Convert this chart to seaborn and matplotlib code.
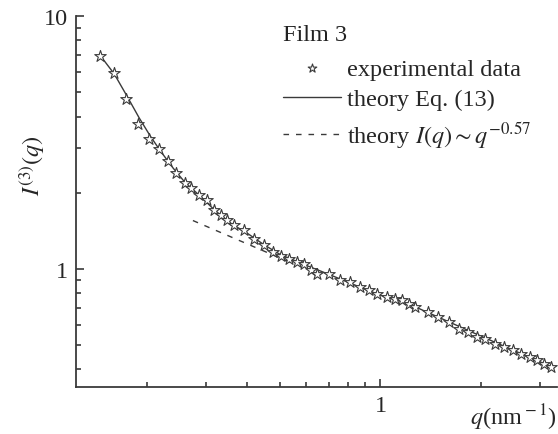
import numpy as np
import pandas as pd
import matplotlib
matplotlib.use('Agg')
import matplotlib.pyplot as plt
import seaborn as sns

q_exp = [0.1455, 0.160, 0.174, 0.188, 0.203, 0.2174, 0.231, 0.2454, 0.261, 0.272,
         0.287, 0.304, 0.3184, 0.3334, 0.3488, 0.365, 0.391, 0.419, 0.449, 0.477,
         0.504, 0.532, 0.5635, 0.590, 0.618, 0.646, 0.700, 0.759, 0.812, 0.870,
         0.921, 0.975, 1.044, 1.106, 1.157, 1.216, 1.268, 1.383, 1.488, 1.602,
         1.715, 1.828, 1.948, 2.058, 2.194, 2.339, 2.488, 2.634, 2.790, 2.938,
         3.091, 3.236]
I_exp = [6.93, 5.95, 4.70, 3.74, 3.265, 2.967, 2.655, 2.385, 2.188, 2.09,
         1.949, 1.862, 1.70, 1.624, 1.552, 1.483, 1.417, 1.314, 1.236, 1.164,
         1.126, 1.095, 1.063, 1.047, 0.985, 0.955, 0.955, 0.899, 0.886, 0.847,
         0.821, 0.796, 0.773, 0.761, 0.749, 0.727, 0.706, 0.674, 0.644, 0.616,
         0.579, 0.562, 0.537, 0.529, 0.505, 0.490, 0.475, 0.461, 0.448, 0.434,
         0.421, 0.409]

# theory Eq. (13)
q_th = [0.145, 0.16, 0.175, 0.19, 0.205, 0.22, 0.24, 0.26, 0.29, 0.32, 0.36,
        0.40, 0.45, 0.5, 0.6, 0.7, 0.85, 1.0, 1.2, 1.5, 2.0, 2.5, 3.3]
I_th = [7.0, 5.9, 4.8, 3.95, 3.35, 2.92, 2.5, 2.2, 1.93, 1.70, 1.50,
        1.38, 1.24, 1.14, 1.03, 0.95, 0.855, 0.785, 0.73, 0.64, 0.54, 0.475, 0.405]

# theory I(q) ~ q^-0.57
q_pow = [0.275, 0.56]
I_pow = [1.55, 1.034]

exp_df = pd.DataFrame({'q': q_exp, 'I': I_exp})
th_df = pd.DataFrame({'q': q_th, 'I': I_th})
pow_df = pd.DataFrame({'q': q_pow, 'I': I_pow})

sns.set_style('ticks')
plt.rcParams['font.family'] = ['Liberation Serif', 'DejaVu Serif']
plt.rcParams['mathtext.fontset'] = 'stix'
plt.rcParams['font.size'] = 17.5

grey = '#3a3a3a'
fig = plt.figure(figsize=(5.58, 4.35), dpi=100)
ax = fig.add_axes([0.1362, 0.108, 0.862, 0.853])

sns.lineplot(data=th_df, x='q', y='I', ax=ax, color=grey, lw=1.0,
             label='theory Eq. (13)', zorder=2)
sns.lineplot(data=pow_df, x='q', y='I', ax=ax, color=grey, lw=1.0,
             label=r'theory $I(q) \sim q^{-0.57}$', zorder=2)
ax.lines[-1].set_dashes((4, 5))
sns.scatterplot(data=exp_df, x='q', y='I', ax=ax, marker='*', s=75,
                facecolor='white', edgecolor=grey, linewidth=0.8,
                label='experimental data', zorder=3)

ax.set_xscale('log')
ax.set_yscale('log')
ax.set_xlim(0.123, 3.37)
ax.set_ylim(0.34, 10)

ax.yaxis.set_major_formatter(matplotlib.ticker.FuncFormatter(lambda v, p: f'{v:g}'))
ax.xaxis.set_major_formatter(matplotlib.ticker.FuncFormatter(lambda v, p: f'{v:g}'))
ax.yaxis.set_minor_formatter(matplotlib.ticker.NullFormatter())
ax.xaxis.set_minor_formatter(matplotlib.ticker.NullFormatter())

ax.tick_params(which='both', direction='in', color=grey, width=1.2)
ax.tick_params(which='major', length=6, pad=6)
ax.tick_params(which='minor', length=3.5)
sns.despine(ax=ax)
for s in ['left', 'bottom']:
    ax.spines[s].set_color(grey)
    ax.spines[s].set_linewidth(1.3)

ax.set_ylabel(r'$I^{\rm (3)}(q)$')
ax.yaxis.set_label_coords(-0.06, 0.6)
ax.set_xlabel(r'$q$(nm$^{\rm -1}$)')
ax.xaxis.set_label_coords(1.0, -0.04)
ax.xaxis.label.set_ha('right')

handles, labels = ax.get_legend_handles_labels()
order = [labels.index('experimental data'), labels.index('theory Eq. (13)'),
         labels.index(r'theory $I(q) \sim q^{-0.57}$')]
leg = ax.legend([handles[i] for i in order], [labels[i] for i in order],
                title='Film 3', alignment='left', frameon=False,
                loc='upper left', bbox_to_anchor=(283 / 558, 1 - 25 / 435),
                bbox_transform=fig.transFigure, borderpad=0, borderaxespad=0,
                handlelength=2.4, handletextpad=0.25, labelspacing=0.36,
                fontsize=17.5, title_fontsize=17.5, markerscale=0.75)
leg.get_title().set_color('#222222')
leg._legend_box.sep = 9

plt.savefig('out.png', dpi=100)
